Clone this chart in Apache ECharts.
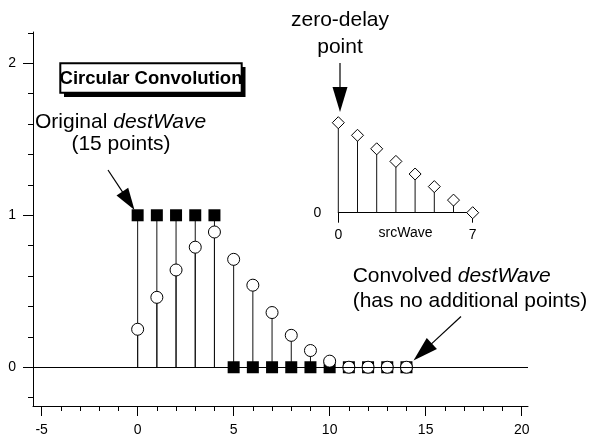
<!DOCTYPE html>
<html>
<head>
<meta charset="utf-8">
<script src="https://cdn.jsdelivr.net/npm/echarts@6/dist/echarts.min.js"></script>
<style>
html,body{margin:0;padding:0;background:#fff;}
#chart{width:593px;height:437px;}
</style>
</head>
<body>
<div id="chart"></div>
<script>
// ---- data ----
const destWave = [1, 1, 1, 1, 1, 0, 0, 0, 0, 0, 0, 0, 0, 0, 0];
const convolvedWave = [0.25, 0.46, 0.64, 0.79, 0.89, 0.71, 0.54, 0.36, 0.21, 0.11, 0.04, 0, 0, 0, 0];
const srcWave = [1, 0.86, 0.71, 0.57, 0.43, 0.29, 0.14, 0];
const xMajorTicks = [-5, 0, 5, 10, 15, 20];
const xMinorTicks = [-4, -3, -2, -1, 1, 2, 3, 4, 6, 7, 8, 9, 11, 12, 13, 14, 16, 17, 18, 19];
const yMajorTicks = [0, 1, 2];
const yMinorTicks = [-0.2, 0.2, 0.4, 0.6, 0.8, 1.2, 1.4, 1.6, 1.8, 2.2];
const insetXTicks = [0, 7];
const insetYTicks = [0];

const FONT = '"Liberation Sans", Arial, Helvetica, sans-serif';
const chart = echarts.init(document.getElementById('chart'), null, {renderer: 'canvas'});

function pairs(arr) { return arr.map((v, i) => [i, v]); }

function stemSeries(data, xi, yi, z) {
  return {
    type: 'custom', xAxisIndex: xi, yAxisIndex: yi, z: z, silent: true, clip: false,
    data: pairs(data),
    renderItem: function (params, api) {
      const x = api.value(0), v = api.value(1);
      if (v === 0) return null;
      const p0 = api.coord([x, 0]);
      const p1 = api.coord([x, v]);
      return {type: 'line', shape: {x1: p0[0], y1: p0[1], x2: p1[0], y2: p1[1]},
        style: {stroke: '#111', lineWidth: 1}};
    }
  };
}

function arrow(x1, y1, x2, y2, headLen, headHalf) {
  const dx = x2 - x1, dy = y2 - y1, L = Math.sqrt(dx * dx + dy * dy);
  const ux = dx / L, uy = dy / L;
  const bx = x2 - ux * headLen, by = y2 - uy * headLen;
  const px = -uy, py = ux;
  return [
    {type: 'line', shape: {x1: x1, y1: y1, x2: bx + ux * 2, y2: by + uy * 2}, style: {stroke: '#000', lineWidth: 1.2}, z: 20},
    {type: 'polygon', shape: {points: [[x2, y2], [bx + px * headHalf, by + py * headHalf], [bx - px * headHalf, by - py * headHalf]]},
      style: {fill: '#000'}, z: 20}
  ];
}

const option = {
  animation: false,
  backgroundColor: '#fff',
  grid: [
    {left: 33, top: 32, width: 495, height: 374, containLabel: false},
    {left: 338.3, top: 122.7, width: 134.4, height: 90, containLabel: false}
  ],
  xAxis: [
    {
      type: 'value', gridIndex: 0, position: 'bottom', min: -5.45, max: 20.33,
      axisLine: {show: true, onZero: false, lineStyle: {color: '#000', width: 1}},
      splitLine: {show: false},
      axisTick: {show: true, length: 10, customValues: xMajorTicks, lineStyle: {color: '#000'}},
      axisLabel: {show: true, customValues: xMajorTicks, margin: 17, color: '#000', fontSize: 14, fontFamily: FONT}
    },
    {
      type: 'value', gridIndex: 0, position: 'bottom', offset: 0, min: -5.45, max: 20.33,
      axisLine: {show: false, onZero: false}, splitLine: {show: false},
      axisTick: {show: true, length: 5, customValues: xMinorTicks, lineStyle: {color: '#000'}},
      axisLabel: {show: false}
    },
    {
      type: 'value', gridIndex: 1, position: 'bottom', min: 0, max: 7,
      axisLine: {show: true, onZero: false, lineStyle: {color: '#000', width: 1}},
      splitLine: {show: false},
      axisTick: {show: true, length: 10, customValues: insetXTicks, lineStyle: {color: '#000'}},
      axisLabel: {show: true, customValues: insetXTicks, margin: 15, color: '#000', fontSize: 14, fontFamily: FONT},
      name: 'srcWave', nameLocation: 'middle', nameGap: 13, nameMoveOverlap: false,
      nameTextStyle: {color: '#000', fontSize: 14, fontFamily: FONT, verticalAlign: 'top'}
    }
  ],
  yAxis: [
    {
      type: 'value', gridIndex: 0, position: 'left', min: -0.255, max: 2.206,
      axisLine: {show: true, onZero: false, lineStyle: {color: '#000', width: 1}},
      splitLine: {show: false},
      axisTick: {show: true, length: 10, customValues: yMajorTicks, lineStyle: {color: '#000'}},
      axisLabel: {show: true, customValues: yMajorTicks, margin: 17, color: '#000', fontSize: 14, fontFamily: FONT}
    },
    {
      type: 'value', gridIndex: 0, position: 'left', offset: 0, min: -0.255, max: 2.206,
      axisLine: {show: false, onZero: false}, splitLine: {show: false},
      axisTick: {show: true, length: 5, customValues: yMinorTicks, lineStyle: {color: '#000'}},
      axisLabel: {show: false}
    },
    {
      type: 'value', gridIndex: 1, position: 'left', min: 0, max: 1,
      axisLine: {show: false, onZero: false}, splitLine: {show: false}, axisTick: {show: false},
      axisLabel: {show: true, customValues: insetYTicks, margin: 17, color: '#000', fontSize: 14, fontFamily: FONT}
    }
  ],
  series: [
    Object.assign(stemSeries(destWave, 0, 0, 2), {
      markLine: {
        silent: true, symbol: ['none', 'none'], label: {show: false},
        lineStyle: {color: '#000', width: 1, type: 'solid'},
        data: [{yAxis: 0}]
      }
    }),
    stemSeries(convolvedWave, 0, 0, 2),
    {
      type: 'scatter', xAxisIndex: 0, yAxisIndex: 0, z: 3, clip: false, silent: true,
      symbol: 'rect', symbolSize: 12,
      itemStyle: {color: '#000', opacity: 1},
      data: pairs(destWave)
    },
    {
      type: 'scatter', xAxisIndex: 0, yAxisIndex: 0, z: 4, clip: false, silent: true,
      symbol: 'circle', symbolSize: 12,
      itemStyle: {color: '#fff', borderColor: '#000', borderWidth: 1, opacity: 1},
      data: pairs(convolvedWave)
    },
    stemSeries(srcWave, 2, 2, 2),
    {
      type: 'scatter', xAxisIndex: 2, yAxisIndex: 2, z: 4, clip: false, silent: true,
      symbol: 'diamond', symbolSize: 12,
      itemStyle: {color: '#fff', borderColor: '#000', borderWidth: 1, opacity: 1},
      data: pairs(srcWave)
    }
  ],
  graphic: [].concat(
    [
      {type: 'rect', shape: {x: 64, y: 67, width: 181.5, height: 30}, style: {fill: '#000'}, z: 10},
      {type: 'rect', shape: {x: 60.3, y: 63.3, width: 181.4, height: 29.4}, style: {fill: '#fff', stroke: '#000', lineWidth: 2}, z: 11},
      {type: 'text', x: 151, y: 79, z: 12,
        style: {text: 'Circular Convolution', fill: '#000', font: 'bold 18.5px ' + FONT, textAlign: 'center', textVerticalAlign: 'middle'}},
      {type: 'text', x: 35, y: 122.5, z: 12,
        style: {text: '{n|Original }{i|destWave}', textVerticalAlign: 'middle', textAlign: 'left',
          rich: {n: {fill: '#000', fontSize: 21, fontFamily: FONT}, i: {fill: '#000', fontSize: 21, fontFamily: FONT, fontStyle: 'italic'}}}},
      {type: 'text', x: 121, y: 144, z: 12,
        style: {text: '(15 points)', fill: '#000', fontSize: 21, fontFamily: FONT, textAlign: 'center', textVerticalAlign: 'middle'}},
      {type: 'text', x: 340, y: 20, z: 12,
        style: {text: 'zero-delay', fill: '#000', fontSize: 21, fontFamily: FONT, textAlign: 'center', textVerticalAlign: 'middle'}},
      {type: 'text', x: 340, y: 47.5, z: 12,
        style: {text: 'point', fill: '#000', fontSize: 21, fontFamily: FONT, textAlign: 'center', textVerticalAlign: 'middle'}},
      {type: 'text', x: 352.7, y: 275.8, z: 12,
        style: {text: '{n|Convolved }{i|destWave}', textVerticalAlign: 'middle', textAlign: 'left',
          rich: {n: {fill: '#000', fontSize: 21, fontFamily: FONT}, i: {fill: '#000', fontSize: 21, fontFamily: FONT, fontStyle: 'italic'}}}},
      {type: 'text', x: 352.7, y: 301, z: 12,
        style: {text: '(has no additional points)', fill: '#000', fontSize: 21, fontFamily: FONT, textAlign: 'left', textVerticalAlign: 'middle'}}
    ],
    arrow(108, 170, 134.5, 210, 22, 7),
    arrow(340, 63, 340, 112, 25, 7.5),
    arrow(461, 316.5, 413.5, 360.5, 25, 7.5)
  )
};
chart.setOption(option);
</script>
</body>
</html>
